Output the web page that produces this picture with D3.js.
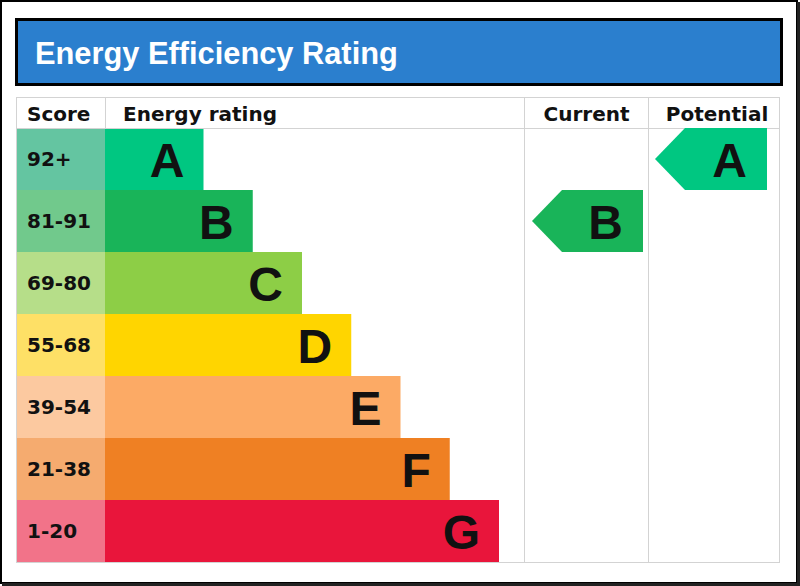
<!DOCTYPE html>
<html>
<head>
<meta charset="utf-8">
<script src="https://cdn.jsdelivr.net/npm/d3@7/dist/d3.min.js"></script>
<style>
  html, body { margin: 0; padding: 0; background: #fff; }
  svg { display: block; }
</style>
</head>
<body>
<svg id="chart" width="800" height="586"></svg>
<script>
// ---- data ----
const title = "Energy Efficiency Rating";
const headers = ["Score", "Energy rating", "Current", "Potential"];
const bands = ["A", "B", "C", "D", "E", "F", "G"];
const scoreLabels = ["92+", "81-91", "69-80", "55-68", "39-54", "21-38", "1-20"];
const barSteps = [2, 3, 4, 5, 6, 7, 8];
const barColors = ["#00C781", "#19B459", "#8DCE46", "#FFD500", "#FCAA65", "#EF8023", "#E9153B"];
const scoreColors = ["#64C5A1", "#71C98C", "#B6DE89", "#FEE066", "#FCC9A0", "#F5AB6F", "#F27389"];
const currentRating = "B";
const potentialRating = "A";

// ---- layout ----
const svg = d3.select("#chart");
const tbl = { left: 16, right: 779, top: 97, head: 128, bottom: 562 };
const colScore = 105, colCurrent = 524, colPotential = 648;
const gridColor = "#D3D3D3";
const ink = "#111";

// outer frame
svg.append("rect").attr("x", 1).attr("y", 1).attr("width", 796).attr("height", 582)
  .attr("fill", "#fff").attr("stroke", "#000").attr("stroke-width", 2);
svg.append("line").attr("x1", 798.5).attr("x2", 798.5).attr("y1", 2).attr("y2", 586)
  .attr("stroke", "#222").attr("stroke-width", 3);
svg.append("line").attr("x1", 2).attr("x2", 800).attr("y1", 584.5).attr("y2", 584.5)
  .attr("stroke", "#222").attr("stroke-width", 3);

// title box
svg.append("rect").attr("x", 16.5).attr("y", 19.5).attr("width", 765).attr("height", 65)
  .attr("fill", "#2B7FCE").attr("stroke", "#000").attr("stroke-width", 3);
const tt = svg.append("text").attr("x", 35).attr("y", 64)
  .attr("fill", "#fff").attr("font-family", "Liberation Sans, Arial, sans-serif")
  .attr("font-weight", "bold").attr("font-size", 30).text(title);
(function fit(node, target) {
  const w = node.node().getComputedTextLength();
  const fs = 30 * target / w;
  node.attr("font-size", fs.toFixed(2));
})(tt, 363);

// scales
const y = d3.scaleBand().domain(bands).range([tbl.head, tbl.bottom]).padding(0);
const x = d3.scaleLinear().domain([0, 8]).range([colScore, 499]);

// score cells
svg.append("g").selectAll("rect").data(bands).join("rect")
  .attr("x", tbl.left).attr("y", d => y(d))
  .attr("width", colScore - tbl.left).attr("height", y.bandwidth())
  .attr("fill", (d, i) => scoreColors[i]);

// bars
svg.append("g").selectAll("rect").data(bands).join("rect")
  .attr("x", colScore).attr("y", d => y(d))
  .attr("width", (d, i) => x(barSteps[i]) - colScore).attr("height", y.bandwidth())
  .attr("fill", (d, i) => barColors[i]);

// score labels
const smallFont = "DejaVu Sans, Verdana, sans-serif";
svg.append("g").selectAll("text").data(bands).join("text")
  .attr("x", 27).attr("y", d => y(d) + y.bandwidth() / 2 + 7)
  .attr("font-family", smallFont).attr("font-weight", "bold")
  .attr("font-size", 20).attr("fill", ink)
  .text((d, i) => scoreLabels[i]);

// bar letters
const bigFont = "Liberation Sans, Arial, sans-serif";
svg.append("g").selectAll("text").data(bands).join("text")
  .attr("x", (d, i) => x(barSteps[i]) - 19).attr("y", d => y(d) + y.bandwidth() / 2 + 17.5)
  .attr("text-anchor", "end")
  .attr("font-family", bigFont).attr("font-weight", "bold")
  .attr("font-size", 48).attr("fill", ink)
  .text(d => d);

// grid lines
const grid = svg.append("g").attr("stroke", gridColor).attr("stroke-width", 1).attr("fill", "none");
grid.append("rect").attr("x", tbl.left + 0.5).attr("y", tbl.top + 0.5)
  .attr("width", tbl.right - tbl.left).attr("height", tbl.bottom - tbl.top);
grid.append("line").attr("x1", tbl.left).attr("x2", tbl.right)
  .attr("y1", tbl.head + 0.5).attr("y2", tbl.head + 0.5);
grid.append("line").attr("x1", colScore + 0.5).attr("x2", colScore + 0.5)
  .attr("y1", tbl.top).attr("y2", tbl.head);
[colCurrent, colPotential].forEach(cx => {
  grid.append("line").attr("x1", cx + 0.5).attr("x2", cx + 0.5)
    .attr("y1", tbl.top).attr("y2", tbl.bottom);
});

// headers
const hdrPos = [[27, "start"], [123, "start"], [586.5, "middle"], [717, "middle"]];
svg.append("g").selectAll("text").data(headers).join("text")
  .attr("x", (d, i) => hdrPos[i][0]).attr("y", 121)
  .attr("text-anchor", (d, i) => hdrPos[i][1])
  .attr("font-family", smallFont).attr("font-weight", "bold")
  .attr("font-size", 20).attr("fill", ink)
  .text(d => d);

// arrows
function arrow(rating, left, right) {
  const i = bands.indexOf(rating);
  const top = y(rating), h = y.bandwidth();
  const tip = 30;
  const g = svg.append("g");
  g.append("path")
    .attr("d", d3.line()([[left, top + h / 2], [left + tip, top], [right, top], [right, top + h], [left + tip, top + h]]) + "Z")
    .attr("fill", barColors[i]);
  g.append("text").attr("x", right - 20).attr("y", top + h / 2 + 17.5)
    .attr("text-anchor", "end").attr("font-family", bigFont).attr("font-weight", "bold")
    .attr("font-size", 48).attr("fill", ink).text(rating);
}
arrow(currentRating, 532, 643);
arrow(potentialRating, 655, 767);
</script>
</body>
</html>
